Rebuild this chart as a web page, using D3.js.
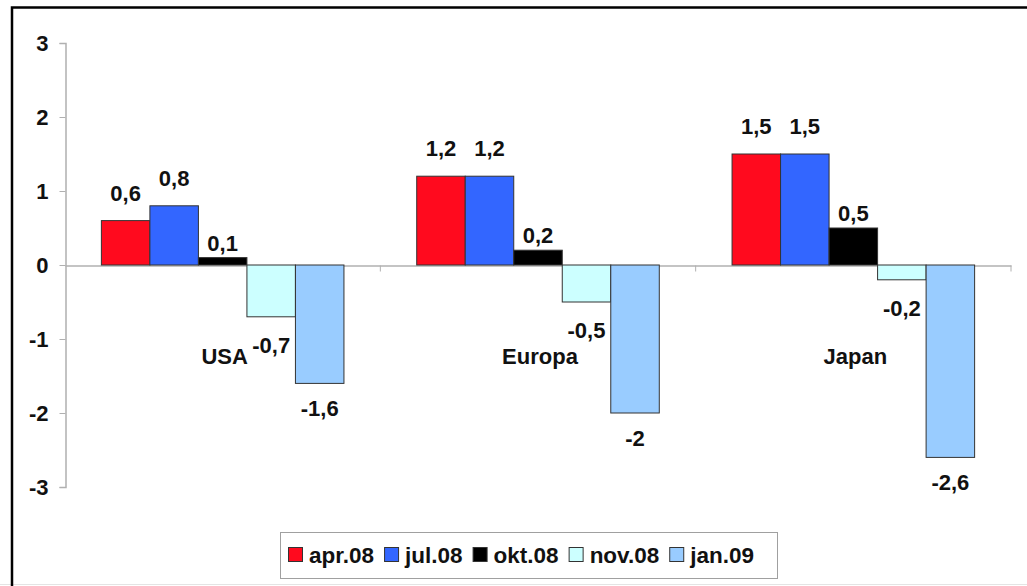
<!DOCTYPE html>
<html>
<head>
<meta charset="utf-8">
<script src="https://cdn.jsdelivr.net/npm/d3@7"></script>
<style>
  html, body { margin: 0; padding: 0; background: #fff; }
  svg { display: block; }
  text { font-family: "Liberation Sans", Arial, sans-serif; font-weight: bold; fill: #111; }
</style>
</head>
<body>
<svg id="chart" width="1027" height="586"></svg>
<script>
// ---- data ----
const categories = ["USA", "Europa", "Japan"];
const seriesNames = ["apr.08", "jul.08", "okt.08", "nov.08", "jan.09"];
const apr08 = [0.6, 1.2, 1.5];
const jul08 = [0.8, 1.2, 1.5];
const okt08 = [0.1, 0.2, 0.5];
const nov08 = [-0.7, -0.5, -0.2];
const jan09 = [-1.6, -2, -2.6];
const yTicks = [-3, -2, -1, 0, 1, 2, 3];

const seriesValues = [apr08, jul08, okt08, nov08, jan09];
const colors = ["#ff0a1e", "#3366ff", "#000000", "#ccffff", "#99ccff"];

// ---- layout ----
const svg = d3.select("#chart");
const W = 1027, H = 586;
const plotLeft = 65, plotRight = 1011, plotTop = 43, plotBottom = 487;
const fontSize = 22;

// frame
svg.append("line").attr("x1", 0).attr("x2", W).attr("y1", 584.5).attr("y2", 584.5)
  .attr("stroke", "#e4e4e4").attr("stroke-width", 1);
svg.append("path").attr("d", `M12,${H} L12,7.5 L${W},7.5`)
  .attr("fill", "none").attr("stroke", "#000").attr("stroke-width", 2.5);

const x0 = d3.scaleBand().domain(categories).range([plotLeft, plotRight]).paddingInner(0).paddingOuter(0);
const x1 = d3.scaleBand().domain(seriesNames).range([0, x0.bandwidth()]).paddingInner(0).paddingOuter(0.75);
const y = d3.scaleLinear().domain([-3, 3]).range([plotBottom, plotTop]);

// y axis
const yAxis = d3.axisLeft(y).tickValues(yTicks).tickSize(6).tickPadding(11)
  .tickFormat(d => String(d));
const gy = svg.append("g").attr("transform", `translate(${plotLeft + 0.5},0)`).call(yAxis);
gy.select(".domain").attr("stroke", "#b0b0b0").attr("stroke-width", 1.5);
gy.selectAll(".tick line").attr("stroke", "#b0b0b0");
gy.selectAll(".tick text").style("font-size", fontSize + "px").attr("fill", "#111")
  .style("font-family", '"Liberation Sans", Arial, sans-serif').style("font-weight", "bold");

// zero line with category separators
const gx = svg.append("g").attr("transform", `translate(0,${Math.round(y(0)) + 0.5})`)
  .call(d3.axisBottom(x0).tickSize(0).tickFormat(""));
gx.select(".domain").attr("stroke", "#b0b0b0").attr("stroke-width", 1.5);
gx.selectAll(".tick").remove();
const boundaries = categories.map(c => x0(c) + x0.bandwidth());
gx.selectAll("line.sep").data(boundaries).enter().append("line")
  .attr("x1", d => d).attr("x2", d => d).attr("y1", 0).attr("y2", 6)
  .attr("stroke", "#b0b0b0").attr("stroke-width", 1);

// bars
const barData = [];
categories.forEach((c, ci) => {
  seriesNames.forEach((s, si) => {
    barData.push({ cat: c, series: s, si: si, value: seriesValues[si][ci] });
  });
});

const g = svg.append("g");
g.selectAll("rect.bar").data(barData).enter().append("rect")
  .attr("class", "bar")
  .attr("x", d => x0(d.cat) + x1(d.series))
  .attr("width", x1.bandwidth())
  .attr("y", d => y(Math.max(0, d.value)))
  .attr("height", d => Math.abs(y(d.value) - y(0)))
  .attr("fill", d => colors[d.si])
  .attr("stroke", "#333")
  .attr("stroke-width", 1);

// value labels
const fmt = v => String(v).replace(".", ",");
function labelGap(d) {
  if (d.value >= 0) return d.si === 2 ? 7 : 20;
  return d.si === 4 ? 17 : 20;
}
g.selectAll("text.val").data(barData).enter().append("text")
  .attr("class", "val")
  .attr("x", d => x0(d.cat) + x1(d.series) + x1.bandwidth() / 2)
  .attr("y", d => d.value >= 0 ? y(d.value) - labelGap(d) : y(d.value) + labelGap(d) + 16)
  .attr("text-anchor", "middle")
  .style("font-size", fontSize + "px")
  .text(d => fmt(d.value));

// category labels
g.selectAll("text.cat").data(categories).enter().append("text")
  .attr("class", "cat")
  .attr("x", d => x0(d) + x0.bandwidth() / 2 + 2)
  .attr("y", 364)
  .attr("text-anchor", "middle")
  .style("font-size", fontSize + "px")
  .text(d => d);

// legend
const lg = svg.append("g");
lg.append("rect").attr("x", 280.5).attr("y", 532.5).attr("width", 497).attr("height", 46)
  .attr("fill", "#fff").attr("stroke", "#a0a0a0").attr("stroke-width", 1);
let lx = 288;
seriesNames.forEach((s, i) => {
  lg.append("rect").attr("x", lx + 0.5).attr("y", 547.5).attr("width", 14).attr("height", 14)
    .attr("fill", colors[i]).attr("stroke", "#333").attr("stroke-width", 1);
  const t = lg.append("text").attr("x", lx + 21).attr("y", 563)
    .style("font-size", "22.5px").text(s);
  const w = t.node().getComputedTextLength();
  lx = lx + 21 + w + 10;
});
</script>
</body>
</html>
